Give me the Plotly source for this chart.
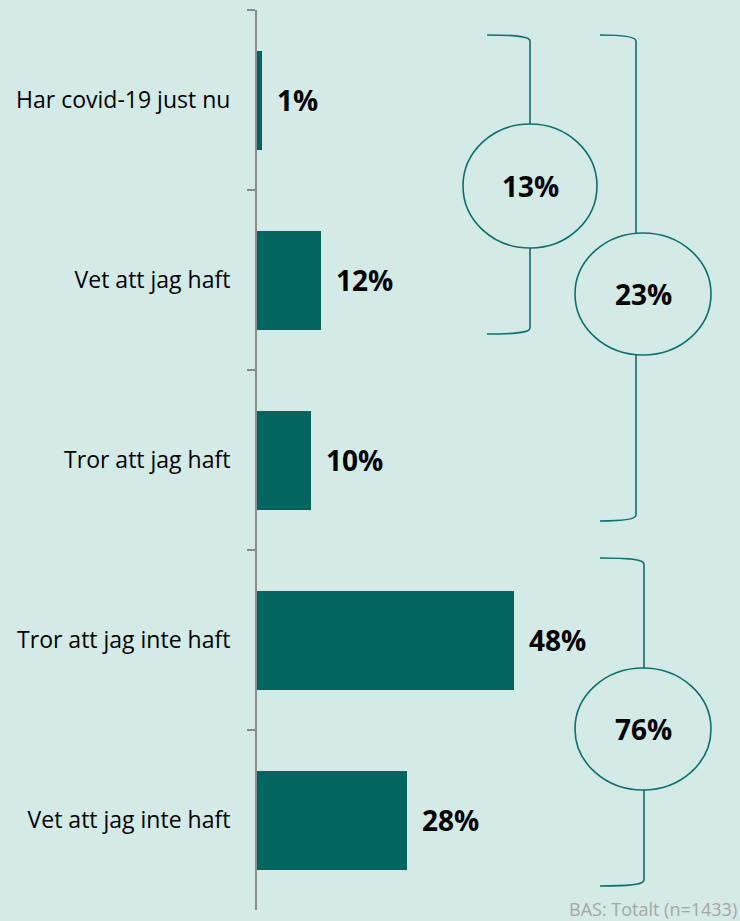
import plotly.graph_objects as go

categories = ["Har covid-19 just nu", "Vet att jag haft", "Tror att jag haft",
              "Tror att jag inte haft", "Vet att jag inte haft"]
values = [1, 12, 10, 48, 28]
value_labels = ["1%", "12%", "10%", "48%", "28%"]
group_labels = ["13%", "23%", "76%"]
footer = "BAS: Totalt (n=1433)"

BG = "#d3eae7"
BAR = "#00645f"
LINE = "#0e6f6b"

W, H = 740, 921
L, R, T, B = 257, 0, 10, 11
PW, PH = W - L - R, H - T - B


def px(x):
    return (x - L) / PW


def py(y):
    return (H - B - y) / PH


fig = go.Figure()
fig.add_trace(go.Bar(
    x=values, y=categories, orientation="h",
    marker=dict(color=BAR, line=dict(width=0)),
    width=0.55, hoverinfo="skip",
))

for c, v, t in zip(categories, values, value_labels):
    fig.add_annotation(x=v, y=c, xref="x", yref="y", text="<b>%s</b>" % t,
                       showarrow=False, xanchor="left", xshift=13,
                       font=dict(family="Open Sans", size=28, color="#000000"))

# brackets: (x_line, top, bottom, left_end, circle cx, cy, rx, ry)
brackets = [
    (530, 35, 334, 487, 530, 186, 67, 62),
    (636, 35, 521, 600, 643, 294, 68, 61),
    (644, 558, 886, 600, 643, 729, 68, 61),
]
for (xl, yt, yb, xe, cx, cy, rx, ry), lab in zip(brackets, group_labels):
    path = ("M {a},{b} C {c},{b} {d},{e} {d},{f} L {d},{g} C {d},{h} {c},{i} {a},{i}"
            .format(a=px(xe), b=py(yt), c=px(xl - 10), d=px(xl), e=py(yt + 2),
                    f=py(yt + 6), g=py(yb - 6), h=py(yb - 2), i=py(yb)))
    fig.add_shape(type="path", path=path, xref="paper", yref="paper",
                  line=dict(color=LINE, width=1.6))
    fig.add_shape(type="circle", xref="paper", yref="paper",
                  x0=px(cx - rx), x1=px(cx + rx), y0=py(cy + ry), y1=py(cy - ry),
                  line=dict(color=LINE, width=1.6), fillcolor=BG)
    fig.add_annotation(x=px(cx), y=py(cy), xref="paper", yref="paper",
                       text="<b>%s</b>" % lab, showarrow=False,
                       xanchor="center", yanchor="middle",
                       font=dict(family="Open Sans", size=28, color="#000000"))

fig.add_annotation(x=px(739), y=py(923), xref="paper", yref="paper", text=footer,
                   showarrow=False, xanchor="right", yanchor="bottom",
                   font=dict(family="Open Sans", size=18, color="#a6a6a6"))

fig.update_layout(
    width=W, height=H,
    margin=dict(l=L, r=R, t=T, b=B),
    paper_bgcolor=BG, plot_bgcolor=BG,
    showlegend=False, bargap=0,
    xaxis=dict(range=[0, PW / 5.36], visible=False, fixedrange=True),
    yaxis=dict(
        categoryorder="array", categoryarray=categories, autorange="reversed",
        showline=True, linecolor="#8c8c8c", linewidth=2,
        ticks="outside", tickson="boundaries", ticklen=8, tickwidth=2,
        tickcolor="#8c8c8c", showgrid=False, zeroline=False,
        ticklabelstandoff=20,
        tickfont=dict(family="Open Sans", size=23, color="#000000"),
    ),
)

fig.write_html("out.html", config={"displayModeBar": False},
               post_script="document.body.style.margin='0';"
                           "document.body.style.background='%s';" % BG)
